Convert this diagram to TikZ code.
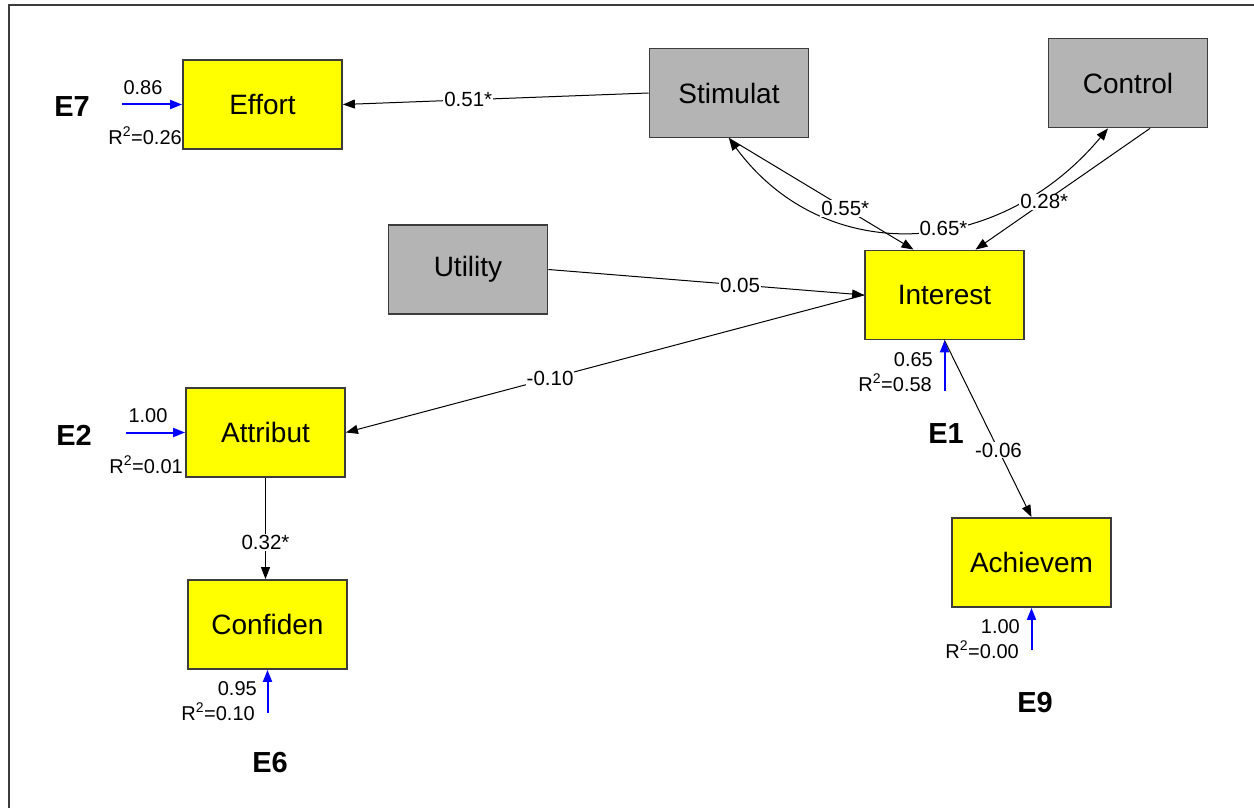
\documentclass[tikz,border=0pt]{standalone}
\usepackage{fontspec}
\setmainfont{Liberation Sans}
\usetikzlibrary{arrows.meta,calc}
\definecolor{exogray}{RGB}{180,180,180}
\definecolor{framegray}{RGB}{60,60,60}
\definecolor{boxyellow}{RGB}{255,255,0}
\begin{document}
\begin{tikzpicture}[x=1pt,y=-1pt,
  box/.style={draw=framegray, line width=1.8pt, minimum width=159pt, minimum height=89pt,
              inner sep=0pt, font=\fontsize{28}{32}\selectfont},
  endo/.style={box, fill=boxyellow},
  exo/.style={box, fill=exogray},
  tip/.tip={Triangle[length=12pt,width=9pt]},
  pathline/.style={draw=black, line width=1pt, -tip},
  corr/.style={draw=black, line width=1pt, tip-tip},
  lab/.style={fill=white, inner sep=1pt, font=\fontsize{20.5}{23}\selectfont},
  errline/.style={draw=blue, line width=2pt, -{Triangle[length=12pt,width=9pt]}},
  elab/.style={inner sep=0pt, anchor=base, font=\fontsize{29}{32}\selectfont\bfseries},
  val/.style={inner sep=0pt, font=\fontsize{20}{23}\selectfont}
]
\useasboundingbox (0,0) rectangle (1254,808);
\draw[framegray, line width=2pt] (9,808) -- (9,5) -- (1254,5);

% boxes
\node[endo] (effort)   at (262.5,104.5) {Effort};
\node[exo]  (stim)     at (729,93)      {Stimulat};
\node[exo]  (control)  at (1128,83)     {Control};
\node[exo]  (utility)  at (468,269.5)   {Utility};
\node[endo] (interest) at (944.5,295)   {Interest};
\node[endo] (attribut) at (265.5,432.5) {Attribut};
\node[endo] (confiden) at (267.5,624.5) {Confiden};
\node[endo] (achievem) at (1031.5,562.5){Achievem};

% anchor points
\coordinate (stimS) at (stim.south);
\coordinate (ctrlA) at ($(control.south)+(-20,0)$);
\coordinate (ctrlB) at ($(control.south)+(22,0)$);
\coordinate (intA)  at ($(interest.north)+(-31,0)$);
\coordinate (intB)  at ($(interest.north)+(31,0)$);

% correlation curve
\draw[corr] (stimS) .. controls (826,270) and (1000,258) .. (ctrlA)
  node[lab, pos=0.57] {0.65*};

% paths
\draw[pathline] (stim.west) -- (effort.east) node[lab, pos=0.59] {0.51*};
\draw[pathline] (stimS) -- (intA) node[lab, pos=0.63] {0.55*};
\draw[pathline] (ctrlB) -- (intB) node[lab, pos=0.606] {0.28*};
\draw[pathline] (utility.east) -- (interest.west) node[lab, pos=0.607] {0.05};
\draw[pathline] (interest.west) -- (attribut.east) node[lab, pos=0.606] {-0.10};
\draw[pathline] (attribut.south) -- (attribut.south |- confiden.north) node[lab, pos=0.64] {0.32*};
\draw[pathline] (interest.south) -- (achievem.north) node[lab, pos=0.62] {-0.06};

% error terms
\coordinate (e7s) at (122,104.5);
\coordinate (e2s) at (126,432.5);
\coordinate (e6s) at (267.5,713);
\coordinate (e1s) at (944.5,391);
\coordinate (e9s) at (1031.5,650);
\draw[errline] (e7s) -- (effort.west);
\draw[errline] (e2s) -- (attribut.west);
\draw[errline] (e6s) -- (confiden.south);
\draw[errline] (e1s) -- (interest.south);
\draw[errline] (e9s) -- (achievem.south);

\node[elab] (E7) at (72,117) {E7};
\node[val, anchor=base] (v7) at (143,95) {0.86};
\node[val, anchor=base east] (r7) at (182,144) {R\textsuperscript{2}=0.26};

\node[elab] (E2) at (74,445) {E2};
\node[val, anchor=base] (v2) at (148,422) {1.00};
\node[val, anchor=base east] (r2) at (183,473) {R\textsuperscript{2}=0.01};

\node[elab] (E6) at (270,772) {E6};
\node[val, anchor=base east] (v6) at (257,695) {0.95};
\node[val, anchor=base east] (r6) at (255,720) {R\textsuperscript{2}=0.10};

\node[elab] (E1) at (946,443) {E1};
\node[val, anchor=base east] (v1) at (933,366) {0.65};
\node[val, anchor=base east] (r1) at (932,391) {R\textsuperscript{2}=0.58};

\node[elab] (E9) at (1035,712) {E9};
\node[val, anchor=base east] (v9) at (1020,633) {1.00};
\node[val, anchor=base east] (r9) at (1019,658) {R\textsuperscript{2}=0.00};
\end{tikzpicture}
\end{document}
